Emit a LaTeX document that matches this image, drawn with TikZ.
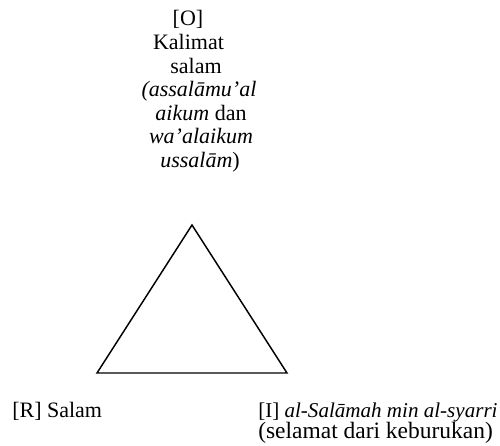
\documentclass[tikz,border=0pt]{standalone}
\usepackage{fontspec}
\setmainfont{Liberation Serif}
\begin{document}
\begin{tikzpicture}[x=0.75pt,y=-0.75pt,
  lbl/.style={inner sep=0pt,anchor=base,font=\fontsize{16.5pt}{18pt}\selectfont},
  lbll/.style={lbl,anchor=base west},
  edge/.style={line width=1.1pt,line join=miter}]
\useasboundingbox (0,0) rectangle (500,446);
\node[lbl] (o1) at (188,26) {[O]};
\node[lbl] (o2) at (188.5,49.5) {Kalimat};
\node[lbl] (o3) at (196,73) {salam};
\node[lbl] (o4) at (199,96.5) {\textit{(assalāmu’al}};
\node[lbl] (o5) at (201,120) {\textit{aikum} dan};
\node[lbl] (o6) at (201,143.5) {\textit{wa’alaikum}};
\node[lbl] (o7) at (200,167) {\textit{ussalām})};
\coordinate (A) at (192,225);
\coordinate (B) at (97,373);
\coordinate (C) at (287,373);
\draw[edge] (A) -- (B) -- (C) -- cycle;
\node[lbll] (r) at (12,417) {[R] Salam};
\node[lbll,font=\fontsize{15.8pt}{18pt}\selectfont] (i1) at (258,417) {[I] \textit{al-Salāmah min al-syarri}};
\node[lbll,font=\fontsize{17.6pt}{19pt}\selectfont] (i2) at (258,438) {(selamat dari keburukan)};
\end{tikzpicture}
\end{document}
